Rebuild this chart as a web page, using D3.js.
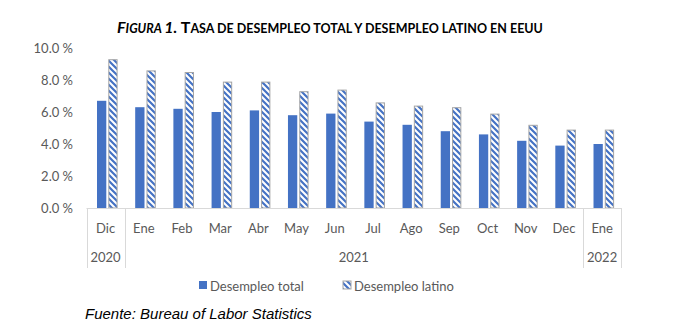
<!DOCTYPE html>
<html><head><meta charset="utf-8">
<script src="https://cdn.jsdelivr.net/npm/d3@7"></script>
<style>body{margin:0;background:#fff}svg{display:block}</style>
</head><body>
<svg id="c" width="685" height="331"></svg>
<script>
const months = ["Dic","Ene","Feb","Mar","Abr","May","Jun","Jul","Ago","Sep","Oct","Nov","Dec","Ene"];
const years = [{label:"2020",from:0,to:0},{label:"2021",from:1,to:12},{label:"2022",from:13,to:13}];
const total  = [6.7,6.3,6.2,6.0,6.1,5.8,5.9,5.4,5.2,4.8,4.6,4.2,3.9,4.0];
const latino = [9.3,8.6,8.5,7.9,7.9,7.3,7.4,6.6,6.4,6.3,5.9,5.2,4.9,4.9];
const yTicks = [0,2,4,6,8,10];
const seriesNames = ["Desempleo total","Desempleo latino"];

const svg = d3.select("#c");
const blue = "#4472C4", gray = "#595959", lineC = "#d9d9d9";
const font = "Lato, 'Open Sans', sans-serif";

const defs = svg.append("defs");
const pat = defs.append("pattern").attr("id","diag").attr("patternUnits","userSpaceOnUse")
  .attr("width",6).attr("height",6);
pat.append("rect").attr("width",6).attr("height",6).attr("fill","#fff");
pat.append("path").attr("d","M-1,-1 L7,7 M-4,2 L1,7 M5,-1 L7,1").attr("stroke",blue).attr("stroke-width",2.2);

const x0 = 86.5, x1 = 621.2;
const x = d3.scaleBand().domain(d3.range(months.length)).range([x0,x1]).paddingInner(0).paddingOuter(0);
const y = d3.scaleLinear().domain([0,10]).range([208,48]);
const bw = x.bandwidth();
const barW = 9.3, gap = 2, off = 10.5;

// y tick labels
svg.append("g").selectAll("text").data(yTicks).join("text")
  .attr("x",73).attr("y",d=>y(d)).attr("dy","0.35em").attr("text-anchor","end")
  .attr("font-family",font).attr("font-size",13).attr("fill",gray)
  .text(d=>d3.format(".1f")(d)+" %");

// bars
svg.append("g").selectAll("rect").data(total).join("rect")
  .attr("x",(d,i)=>x(i)+off).attr("width",barW)
  .attr("y",d=>y(d)).attr("height",d=>y(0)-y(d)).attr("fill",blue);
svg.append("g").selectAll("rect").data(latino).join("rect")
  .attr("x",(d,i)=>x(i)+off+barW+gap+0.5).attr("width",barW-1)
  .attr("y",d=>y(d)+0.5).attr("height",d=>y(0)-y(d)-0.5).attr("fill","url(#diag)")
  .attr("stroke","#a5a5a5").attr("stroke-width",1);

// axis baseline
svg.append("line").attr("x1",x0).attr("x2",x1).attr("y1",y(0)+0.5).attr("y2",y(0)+0.5)
  .attr("stroke",lineC).attr("stroke-width",1);
// group separators
const seps = [0]; years.forEach(g=>seps.push(g.to+1));
svg.append("g").selectAll("line").data(seps).join("line")
  .attr("x1",d=>Math.round(d===months.length?x1:x(d))+0.5).attr("x2",d=>Math.round(d===months.length?x1:x(d))+0.5)
  .attr("y1",y(0)).attr("y2",268).attr("stroke",lineC);

// month labels
svg.append("g").selectAll("text").data(months).join("text")
  .attr("x",(d,i)=>x(i)+bw/2).attr("y",228).attr("dy","0.35em").attr("text-anchor","middle")
  .attr("font-family",font).attr("font-size",13).attr("fill",gray).text(d=>d);
// year labels
svg.append("g").selectAll("text").data(years).join("text")
  .attr("x",d=>(x(d.from)+x(d.to)+bw)/2).attr("y",257).attr("dy","0.35em").attr("text-anchor","middle")
  .attr("font-family",font).attr("font-size",13).attr("fill",gray).text(d=>d.label);

// legend
const leg = svg.append("g");
const legX = [199,343];
seriesNames.forEach((n,i)=>{
  leg.append("rect").attr("x",legX[i]).attr("y",281).attr("width",8).attr("height",8)
    .attr("fill",i===0?blue:"url(#diag)").attr("stroke",i===0?"none":"#a5a5a5");
  leg.append("text").attr("x",legX[i]+11).attr("y",286).attr("dy","0.35em")
    .attr("font-family",font).attr("font-size",13).attr("fill",gray).text(n);
});

// title
const t = svg.append("text").attr("x",330).attr("y",33).attr("text-anchor","middle")
  .attr("font-family",font).attr("font-weight","bold").attr("fill","#000");
t.append("tspan").attr("font-style","italic").attr("font-size",16).text("F");
t.append("tspan").attr("font-style","italic").attr("font-size",12.5).text("IGURA ");
t.append("tspan").attr("font-style","italic").attr("font-size",16).text("1. ");
t.append("tspan").attr("font-size",16).text("T");
t.append("tspan").attr("font-size",12.5).text("ASA DE DESEMPLEO TOTAL Y DESEMPLEO LATINO EN EEUU");

// source
svg.append("text").attr("x",85).attr("y",319).attr("font-family","'Liberation Sans', Arial, sans-serif")
  .attr("font-style","italic").attr("font-size",15).attr("fill","#000").text("Fuente: Bureau of Labor Statistics");
</script>
</body></html>
